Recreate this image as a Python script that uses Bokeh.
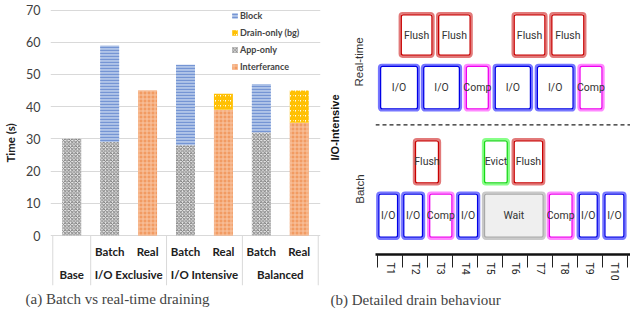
import math
from bokeh.plotting import figure
from bokeh.models import (FactorRange, Range1d, FixedTicker, Legend, LegendItem,
                          Span, ColumnDataSource)
from bokeh.layouts import row
from bokeh.embed import file_html
from bokeh.resources import INLINE
from bokeh.core.properties import value

# ---------------- data: (a) Batch vs real-time draining ----------------
groups = ["Base", "I/O Exclusive", "I/O Exclusive", "I/O Intensive",
          "I/O Intensive", "Balanced", "Balanced"]
modes = ["", "Batch", "Real", "Batch", "Real", "Batch", "Real"]
app_only = [30, 29, 0, 28, 0, 32, 0]
interference = [0, 0, 45, 0, 39, 0, 35]
block = [0, 30, 0, 25, 0, 15, 0]
drain_only = [0, 0, 0, 0, 5, 0, 10]
y_ticks = [0, 10, 20, 30, 40, 50, 60, 70]

# ---------------- data: (b) Detailed drain behaviour ----------------
slot_labels = ["T1", "T2", "T3", "T4", "T5", "T6", "T7", "T8", "T9", "T10"]
# lanes (vertical extents of each lane of the diagram)
lane_top = [11.7, 63.3, 137.7, 191.0]
lane_bottom = [57.3, 111.0, 185.0, 239.3]
row_labels = ["Real-time", "Batch"]
row_lanes = [(0, 1), (2, 3)]
separator_between = (1, 2)
# boxes: lane index, label, start (time slots), end (time slots)
box_lane = [0, 0, 0, 0,
            1, 1, 1, 1, 1, 1,
            2, 2, 2,
            3, 3, 3, 3, 3, 3, 3, 3]
box_label = ["Flush", "Flush", "Flush", "Flush",
             "I/O", "I/O", "Comp", "I/O", "I/O", "Comp",
             "Flush", "Evict", "Flush",
             "I/O", "I/O", "Comp", "I/O", "Wait", "Comp", "I/O", "I/O"]
box_start = [0.83, 2.33, 5.36, 6.87,
             0.0, 1.73, 3.44, 4.60, 6.29, 8.00,
             1.40, 4.17, 5.36,
             -0.07, 0.93, 1.97, 3.13, 4.17, 6.77, 7.97, 9.00]
box_end = [2.27, 3.80, 6.80, 8.36,
           1.69, 3.37, 4.53, 6.22, 7.93, 9.09,
           2.53, 5.29, 6.71,
           0.89, 1.89, 3.07, 4.10, 6.73, 7.89, 8.90, 9.97]

# ---------------- styles ----------------
FONT_A = "Lato"
BOX_STYLE = {
    "I/O":   ("#7676ff", "#0000e6", "#ffffff"),
    "Comp":  ("#ff88ff", "#ee00ee", "#ffffff"),
    "Flush": ("#e27a7a", "#c80000", "#ffffff"),
    "Evict": ("#88ff88", "#16d816", "#ffffff"),
    "Wait":  ("#c9c9c9", "#a9a9a9", "#efefef"),
}

# ================= figure (a) =================
factors = list(zip(groups, modes))
x_range = FactorRange(*factors, factor_padding=0, group_padding=0,
                      range_padding=0.06, range_padding_units="absolute")
Y0, Y1 = -15.52, 72.95
p1 = figure(width=322, height=325, x_range=x_range, y_range=Range1d(Y0, Y1),
            output_backend="svg", toolbar_location=None, frame_align=False,
            min_border_left=50, min_border_right=2, min_border_top=0,
            min_border_bottom=40,
            title="(a) Batch vs real-time draining", title_location="below")
p1.outline_line_color = None
p1.xaxis.visible = False
p1.xgrid.visible = False
p1.ygrid.grid_line_color = "#d9d9d9"
p1.ygrid.grid_line_width = 1
yax = p1.yaxis[0]
yax.ticker = FixedTicker(ticks=y_ticks)
yax.axis_line_color = None
yax.major_tick_line_color = None
yax.major_tick_out = 0
yax.major_tick_in = 0
yax.minor_tick_line_color = None
yax.minor_tick_out = 0
yax.major_label_standoff = 10
yax.major_label_text_font = FONT_A
yax.major_label_text_font_size = "12.5px"
yax.major_label_text_color = "#404040"
yax.axis_label = "Time (s)"
yax.axis_label_text_font = FONT_A
yax.axis_label_text_font_size = "11.5px"
yax.axis_label_text_font_style = "bold"
yax.axis_label_text_color = "#202020"
yax.axis_label_standoff = 6

src = ColumnDataSource(dict(x=factors, app=app_only, interf=interference,
                            block=block, drain=drain_only))
rs = p1.vbar_stack(["app", "interf", "block", "drain"], x="x", width=0.5,
                   source=src, line_color=None,
                   fill_color=["#ececec", "#f29b62", "#b0c4e8", "#ffffff"],
                   hatch_pattern=["diagonal_cross", "cross", "horizontal_line",
                                  "right_diagonal_line"],
                   hatch_color=["#747474", "#f8c6a4", "#7595d4", "#ffc000"],
                   hatch_scale=[3.5, 4.0, 3.0, 5.0],
                   hatch_weight=[0.9, 1.0, 1.3, 2.2])
r_app, r_interf, r_block, r_drain = rs

# table-like category axis drawn below the zero line
sizes = {}
for g in groups:
    sizes[g] = sizes.get(g, 0) + 1
bounds = [0]
for g in dict.fromkeys(groups):
    bounds.append(bounds[-1] + sizes[g])
p1.segment(x0=bounds, x1=bounds, y0=[0] * len(bounds), y1=[Y0] * len(bounds),
           line_color="#d9d9d9", line_width=1)
sub_x = [f for f in factors if f[1]]
p1.text(x=sub_x, y=[-5.0] * len(sub_x), text=[f[1] for f in sub_x],
        text_align="center", text_baseline="middle", text_font=value(FONT_A),
        text_font_size="11.5px", text_font_style="bold", text_color="#202020")
top_groups = list(dict.fromkeys(groups))
p1.text(x=top_groups, y=[-12.2] * len(top_groups), text=top_groups,
        text_align="center", text_baseline="middle", text_font=value(FONT_A),
        text_font_size="11.5px", text_font_style="bold", text_color="#202020")

legend = Legend(items=[LegendItem(label="Block", renderers=[r_block]),
                       LegendItem(label="Drain-only (bg)", renderers=[r_drain]),
                       LegendItem(label="App-only", renderers=[r_app]),
                       LegendItem(label="Interferance", renderers=[r_interf])],
                location=(181, 212), padding=0, margin=0, spacing=4,
                label_height=13, glyph_height=7, glyph_width=7,
                label_standoff=2, label_text_font=FONT_A,
                label_text_font_size="9px", label_text_font_style="bold",
                background_fill_alpha=0, border_line_color=None)
p1.add_layout(legend)

p1.title.text_font = "Liberation Serif"
p1.title.text_font_size = "15px"
p1.title.text_font_style = "normal"
p1.title.align = "left"
p1.title.offset = -25
p1.title.standoff = 7

# ================= figure (b) =================
XS, XE = -0.1, 10.13
p2 = figure(width=308, height=325, x_range=Range1d(XS, XE),
            y_range=Range1d(254, 0), output_backend="svg", toolbar_location=None,
            frame_align=False,
            min_border_left=53, min_border_right=0, min_border_top=0,
            min_border_bottom=71,
            title="(b) Detailed drain behaviour", title_location="below")
p2.outline_line_color = None
p2.grid.visible = False

frame_w = 255.0
ppx = frame_w / (XE - XS)   # pixels per time slot
ppy = 1.0                   # pixels per lane unit


def boxes(inset):
    dx, dy = inset / ppx, inset / ppy
    return dict(left=[s + dx for s in box_start], right=[e - dx for e in box_end],
                top=[lane_top[l] + dy for l in box_lane],
                bottom=[lane_bottom[l] - dy for l in box_lane])


outer = boxes(1.0)
outer.update(lc=[BOX_STYLE[b][0] for b in box_label],
             fc=[BOX_STYLE[b][2] for b in box_label])
p2.quad(source=ColumnDataSource(outer), left="left", right="right", top="top",
        bottom="bottom", fill_color="fc", line_color="lc", line_width=2.2,
        border_radius=3)
inner = boxes(2.6)
inner.update(lc=[BOX_STYLE[b][1] for b in box_label])
p2.quad(source=ColumnDataSource(inner), left="left", right="right", top="top",
        bottom="bottom", fill_color=None, line_color="lc", line_width=1.3,
        border_radius=2)
p2.text(x=[(s + e) / 2 for s, e in zip(box_start, box_end)],
        y=[(lane_top[l] + lane_bottom[l]) / 2 for l in box_lane],
        text=box_label, text_align="center", text_baseline="middle",
        text_font=value("Roboto"), text_font_size="10.5px", text_color="#333333")

sep_y = (lane_bottom[separator_between[0]] + lane_top[separator_between[1]]) / 2
p2.add_layout(Span(location=sep_y, dimension="width", line_color="#222222",
                   line_dash="4 3", line_width=1.2))

xax = p2.xaxis[0]
xax.ticker = FixedTicker(ticks=[i + 0.5 for i in range(len(slot_labels))],
                         minor_ticks=list(range(len(slot_labels) + 1)))
xax.major_label_overrides = {i + 0.5: t for i, t in enumerate(slot_labels)}
xax.major_label_orientation = -math.pi / 2
xax.major_tick_out = 0
xax.major_tick_in = 0
xax.minor_tick_out = 13
xax.minor_tick_in = 0
xax.minor_tick_line_color = "#222222"
xax.axis_line_width = 2.5
xax.axis_line_color = "#111111"
xax.major_label_standoff = -5
xax.major_label_text_font = "Roboto"
xax.major_label_text_font_size = "10.5px"
xax.major_label_text_color = "#222222"

row_centers = [(lane_top[a] + lane_bottom[b]) / 2 for a, b in row_lanes]
yax2 = p2.yaxis[0]
yax2.ticker = FixedTicker(ticks=row_centers)
yax2.major_label_overrides = {c: t for c, t in zip(row_centers, row_labels)}
yax2.major_label_orientation = "vertical"
yax2.axis_line_color = None
yax2.major_tick_line_color = None
yax2.major_tick_out = 0
yax2.major_tick_in = 0
yax2.minor_tick_line_color = None
yax2.minor_tick_out = 0
yax2.major_label_standoff = 10
yax2.major_label_text_font = "Liberation Sans"
yax2.major_label_text_font_size = "11.5px"
yax2.major_label_text_color = "#333333"
yax2.axis_label = "I/O-Intensive"
yax2.axis_label_text_font = "Liberation Sans"
yax2.axis_label_text_font_size = "11px"
yax2.axis_label_text_font_style = "bold"
yax2.axis_label_text_color = "#111111"
yax2.axis_label_standoff = 10

p2.title.text_font = "Liberation Serif"
p2.title.text_font_size = "15px"
p2.title.text_font_style = "normal"
p2.title.align = "left"
p2.title.offset = -45
p2.title.standoff = 12

layout = row(p1, p2)
open("out.html", "w").write(file_html(layout, INLINE))
